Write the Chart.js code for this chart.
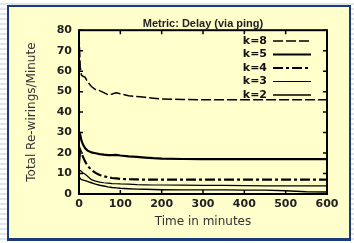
<!DOCTYPE html>
<html>
<head>
<meta charset="utf-8">
<script src="https://cdn.jsdelivr.net/npm/chart.js@4"></script>
<style>
  html, body { margin: 0; padding: 0; }
  body {
    width: 354px; height: 243px; overflow: hidden; position: relative;
    background: repeating-linear-gradient(#ffffff 0 3px, #e2e4ec 3px 5px);
  }
  #panel {
    position: absolute; left: 7px; top: 5px; width: 340px; height: 231px;
    background: #ffffcc; border: 2px solid #1d3b78; border-bottom-width: 3px;
  }
  #c { position: absolute; left: 0; top: 0; }
</style>
</head>
<body>
<div id="panel"></div>
<canvas id="c" width="354" height="243"></canvas>
<script>
// time axis (minutes)
const times = [0, 3, 6, 10, 15, 20, 30, 40, 50, 60, 70, 80, 90, 100, 120, 140, 160, 180, 200, 250, 300, 350, 400, 450, 500, 550, 600];

// re-wirings per minute for each k
const k8 = [78, 62, 58, 57.5, 57, 55, 52.5, 51, 50.5, 49.5, 48.5, 48.8, 49.4, 49, 48, 47.6, 47.2, 46.8, 46.4, 46.2, 46, 46, 46, 46, 46, 46, 46];
const k5 = [30, 29, 26, 24, 22.3, 21.3, 20.3, 19.9, 19.5, 19.2, 19, 19, 19.1, 18.8, 18.4, 18.1, 17.8, 17.5, 17.3, 17.1, 17, 17, 17, 17, 17, 17, 17];
const k4 = [15, 21.5, 20, 18, 15.8, 14, 11.7, 10.3, 9.3, 8.7, 8.2, 7.8, 7.6, 7.4, 7.2, 7.1, 7, 7, 7, 7, 7, 7, 7, 7, 7, 7, 7];
const k3 = [12, 11.5, 11, 10.2, 9.6, 8.8, 7, 6.3, 5.8, 5.5, 5.3, 5.1, 5, 4.9, 4.8, 4.6, 4.5, 4.4, 4.4, 4.3, 4.2, 4.2, 4.1, 4.0, 4.0, 4.0, 4.0];
const k2 = [8.5, 7.5, 7, 6.8, 6.5, 6.2, 5.5, 4.8, 4.3, 3.9, 3.5, 3.2, 3, 2.8, 2.6, 2.4, 2.3, 2.2, 2.1, 2.0, 2.0, 2.0, 1.9, 1.9, 1.6, 1.1, 1.0];

const seriesLabels = ['k=8', 'k=5', 'k=4', 'k=3', 'k=2'];
const seriesValues = [k8, k5, k4, k3, k2];
const xTicks = [0, 100, 200, 300, 400, 500, 600];
const yTicks = [0, 10, 20, 30, 40, 50, 60, 70, 80];

const lineStyles = [
  { width: 1.5, dash: [10, 3] },
  { width: 2.2, dash: [] },
  { width: 2.2, dash: [10, 3, 3, 3] },
  { width: 1.2, dash: [] },
  { width: 1.4, dash: [] }
];

const datasets = seriesLabels.map((lab, i) => ({
  label: lab,
  data: times.map((t, j) => ({ x: t, y: seriesValues[i][j] })),
  borderColor: '#000',
  borderWidth: lineStyles[i].width,
  borderDash: lineStyles[i].dash,
  pointRadius: 0,
  fill: false,
  tension: 0
}));

const tickFont = { family: 'DejaVu Sans', weight: 'bold', size: 11 };

// frame, inward mirror ticks and the legend, gnuplot style
const framePlugin = {
  id: 'frame',
  afterDraw(chart) {
    const ctx = chart.ctx;
    const a = chart.chartArea;
    const xs = chart.scales.x, ys = chart.scales.y;
    ctx.save();
    ctx.strokeStyle = '#000';
    ctx.lineWidth = 2;
    ctx.setLineDash([]);
    ctx.strokeRect(a.left, a.top, a.right - a.left, a.bottom - a.top);
    ctx.lineWidth = 1.5;
    ctx.beginPath();
    xTicks.forEach(v => {
      const px = xs.getPixelForValue(v);
      ctx.moveTo(px, a.bottom); ctx.lineTo(px, a.bottom - 4);
      ctx.moveTo(px, a.top); ctx.lineTo(px, a.top + 4);
    });
    yTicks.forEach(v => {
      const py = ys.getPixelForValue(v);
      ctx.moveTo(a.left, py); ctx.lineTo(a.left + 4, py);
      ctx.moveTo(a.right, py); ctx.lineTo(a.right - 4, py);
    });
    ctx.stroke();

    // legend
    ctx.font = 'bold 11px "DejaVu Sans"';
    ctx.textAlign = 'right';
    ctx.textBaseline = 'middle';
    ctx.fillStyle = '#111';
    seriesLabels.forEach((lab, i) => {
      const y = 41 + i * 13.5;
      ctx.fillText(lab, 267, y);
      ctx.lineWidth = lineStyles[i].width;
      ctx.setLineDash(lineStyles[i].dash);
      ctx.beginPath();
      ctx.moveTo(273, y); ctx.lineTo(311, y);
      ctx.stroke();
    });
    ctx.restore();
  }
};

new Chart(document.getElementById('c').getContext('2d'), {
  type: 'line',
  data: { datasets: datasets },
  options: {
    responsive: false,
    animation: false,
    layout: { padding: { left: 0, right: 27, top: 0, bottom: 0 } },
    plugins: {
      legend: { display: false },
      tooltip: { enabled: false },
      title: {
        display: true,
        text: 'Metric: Delay (via ping)',
        fullSize: false,
        color: '#222',
        font: { family: 'Liberation Sans', weight: 'bold', size: 11 },
        padding: { top: 17, bottom: 0 }
      }
    },
    scales: {
      x: {
        type: 'linear', min: 0, max: 600,
        ticks: { stepSize: 100, padding: 4, color: '#222', font: tickFont, maxRotation: 0 },
        grid: { display: false, drawTicks: false },
        border: { display: false },
        title: { display: true, text: 'Time in minutes', color: '#333',
                 font: { family: 'DejaVu Sans', size: 12 }, padding: { top: 0, bottom: 14 } },
        afterFit(s) { s.height = 49; }
      },
      y: {
        min: 0, max: 80,
        ticks: { stepSize: 10, padding: 7, color: '#222', font: tickFont },
        grid: { display: false, drawTicks: false },
        border: { display: false },
        title: { display: true, text: 'Total Re-wirings/Minute', color: '#333',
                 font: { family: 'DejaVu Sans', size: 12 }, padding: { top: 25, bottom: 0 } },
        afterFit(s) { s.width = 79; }
      }
    }
  },
  plugins: [framePlugin]
});
</script>
</body>
</html>
